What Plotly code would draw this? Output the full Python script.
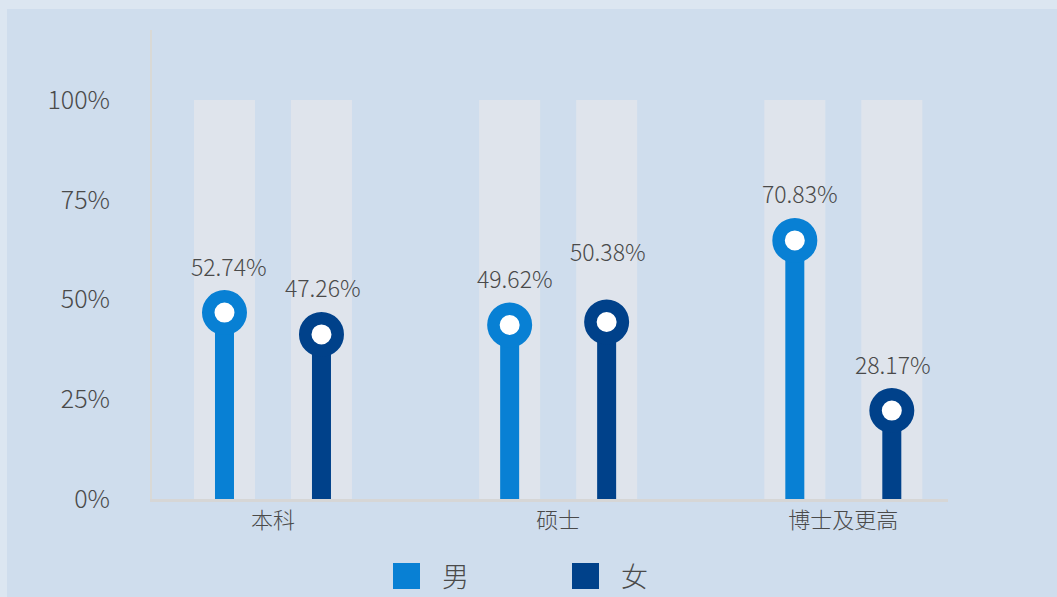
import plotly.graph_objects as go

# ---------------- data ----------------
categories = ["本科", "硕士", "博士及更高"]
series_names = ["男", "女"]
male_pct = [52.74, 49.62, 70.83]
female_pct = [47.26, 50.38, 28.17]
y_ticks = [0, 25, 50, 75, 100]
y_tick_labels = ["0%", "25%", "50%", "75%", "100%"]

# ---------------- style ----------------
W, H = 1057, 597
PL, PR, PT, PB = 152, 948, 30, 499          # plot area in pixels
COL_M = "#0880d4"
COL_F = "#00418a"
BG_BAR = "#dfe4ec"
PANEL = "#cfdded"
OUTER = "#dce6f1"
TXT = "#4a4a4a"
FONT = "Noto Sans CJK SC, Noto Sans, sans-serif"

Y_MAX = 100 * (PB - PT) / (PB - 100)        # 100% sits at pixel y=100
px_per_y = (PB - PT) / Y_MAX
X_UNIT = 285.2                                # pixels per category
X_MIN = -(273 - PL) / X_UNIT
X_MAX = 2 + (PR - 843.3) / X_UNIT
GROUP_OFF = 48.5 / X_UNIT
BG_W = 61 / X_UNIT
FG_W = 19 / X_UNIT
RING_OFF = 24 / px_per_y                     # ring centre sits below value
LABEL_SHIFT = 47                              # label centre above ring centre (px)
LABEL_XSHIFT = {"男": 5, "女": 1.5}
EXTRA_SHIFT = {("女", 1): 24}                 # label nudged to avoid neighbour


def px_to_paper_x(px):
    return (px - PL) / (PR - PL)


def px_to_paper_y(py):
    return (PB - py) / (PB - PT)


fig = go.Figure()
series = [("男", male_pct, COL_M, -GROUP_OFF), ("女", female_pct, COL_F, GROUP_OFF)]

# background track bars
for name, vals, col, off in series:
    xs = [i + off for i in range(len(categories))]
    fig.add_trace(go.Bar(
        x=xs, y=[100] * len(vals), width=BG_W,
        marker=dict(color=BG_BAR, line=dict(width=0)),
        hoverinfo="skip", showlegend=False))

# stems
for name, vals, col, off in series:
    xs = [i + off for i in range(len(categories))]
    fig.add_trace(go.Bar(
        x=xs, y=[v - RING_OFF for v in vals], width=FG_W,
        marker=dict(color=col, line=dict(width=0)),
        name=name, showlegend=False))

# rings
for name, vals, col, off in series:
    xs = [i + off for i in range(len(categories))]
    fig.add_trace(go.Scatter(
        x=xs, y=[v - RING_OFF for v in vals], mode="markers",
        marker=dict(size=32.5, color="white", line=dict(color=col, width=12.5)),
        showlegend=False, hoverinfo="skip"))

annotations = []
for name, vals, col, off in series:
    for i, v in enumerate(vals):
        annotations.append(dict(
            x=i + off, y=v - RING_OFF, xref="x", yref="y",
            text=f"{v:.2f}%", showarrow=False, yanchor="middle", xanchor="center",
            xshift=LABEL_XSHIFT[name],
            yshift=LABEL_SHIFT + EXTRA_SHIFT.get((name, i), 0),
            font=dict(family=FONT, size=23, color=TXT, weight=300)))

shapes = [
    # outer light frame strips
    dict(type="rect", xref="paper", yref="paper", layer="below",
         x0=px_to_paper_x(0), x1=px_to_paper_x(W), y0=px_to_paper_y(0), y1=px_to_paper_y(9),
         fillcolor=OUTER, line=dict(width=0)),
    dict(type="rect", xref="paper", yref="paper", layer="below",
         x0=px_to_paper_x(0), x1=px_to_paper_x(7), y0=px_to_paper_y(0), y1=px_to_paper_y(H),
         fillcolor=OUTER, line=dict(width=0)),
]
# manual legend
legend_items = [("男", COL_M, 393), ("女", COL_F, 572)]
for name, col, x0 in legend_items:
    shapes.append(dict(type="rect", xref="paper", yref="paper",
                       x0=px_to_paper_x(x0), x1=px_to_paper_x(x0 + 27),
                       y0=px_to_paper_y(589), y1=px_to_paper_y(563),
                       fillcolor=col, line=dict(width=0)))
    annotations.append(dict(x=px_to_paper_x(x0 + 47), y=px_to_paper_y(575),
                            xref="paper", yref="paper", text=name, showarrow=False,
                            xanchor="left", yanchor="middle",
                            font=dict(family=FONT, size=27, color=TXT, weight=300)))

fig.update_layout(
    width=W, height=H,
    margin=dict(l=PL, r=W - PR, t=PT, b=H - PB, pad=0),
    paper_bgcolor=PANEL, plot_bgcolor="rgba(0,0,0,0)",
    barmode="overlay", showlegend=False,
    shapes=shapes, annotations=annotations,
    xaxis=dict(range=[X_MIN, X_MAX], tickvals=list(range(len(categories))),
               ticktext=categories, showgrid=False, zeroline=False,
               showline=True, linecolor="#d6d6d6", linewidth=3,
               ticks="", tickfont=dict(family=FONT, size=22, color=TXT, weight=300),
               fixedrange=True),
    yaxis=dict(range=[0, Y_MAX], tickvals=y_ticks, ticktext=y_tick_labels,
               showgrid=False, zeroline=False,
               showline=True, linecolor="#d9d9d6", linewidth=2,
               ticks="outside", ticklen=35, tickcolor="rgba(0,0,0,0)",
               tickfont=dict(family=FONT, size=25, color=TXT, weight=300),
               fixedrange=True),
)

fig.write_html("out.html", config={"displayModeBar": False},
               post_script="document.body.style.margin='0';")
